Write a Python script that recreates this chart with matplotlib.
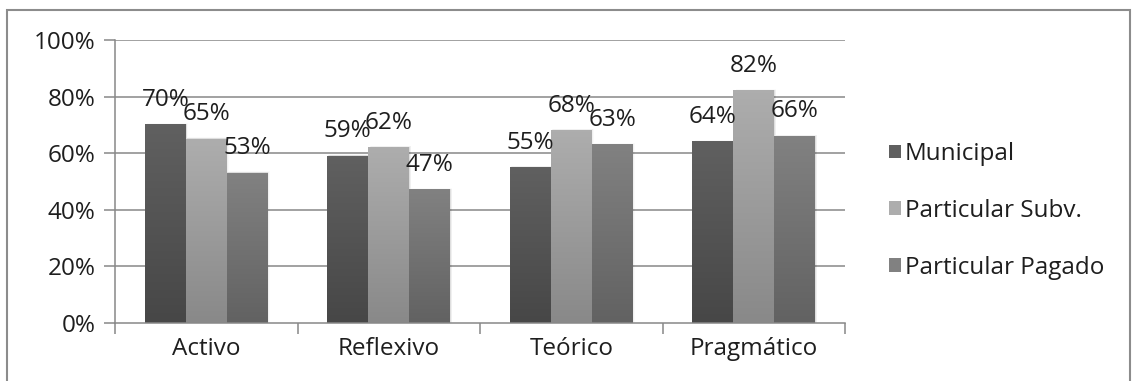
import numpy as np
import matplotlib
matplotlib.use("Agg")
import matplotlib.pyplot as plt
from matplotlib.patches import Rectangle

plt.rcParams['font.family'] = ['Open Sans', 'DejaVu Sans']

categories = ["Activo", "Reflexivo", "Teórico", "Pragmático"]
series_names = ["Municipal", "Particular Subv.", "Particular Pagado"]
municipal = [70, 59, 55, 64]
subvencionado = [65, 62, 68, 82]
pagado = [53, 47, 63, 66]
y_ticks = [0, 20, 40, 60, 80, 100]
y_tick_labels = ["0%", "20%", "40%", "60%", "80%", "100%"]

series_values = [municipal, subvencionado, pagado]
# (bottom colour, top colour) of each series' vertical gradient
gradients = [("#474747", "#606060"), ("#898989", "#adadad"), ("#626262", "#818181")]

FS = 17.5
TXT = "#1e1e1e"
W, H = 1132, 381
fig = plt.figure(figsize=(W / 100, H / 100), dpi=100)

# outer chart frame
fig.patches.append(Rectangle((7 / W, -0.05), (1130 - 7) / W, (H - 10) / H + 0.05,
                             transform=fig.transFigure, fill=False,
                             edgecolor="#8c8c8c", linewidth=1.5))

ax = fig.add_axes([115 / W, (H - 323) / H, (845 - 115) / W, (323 - 40) / H])

grid_color = "#888888"
for t in y_ticks[1:]:
    ax.axhline(t, color=grid_color, linewidth=1.1, zorder=0)

bar_w = 0.224
offsets = [-bar_w, 0, bar_w]
grad = np.linspace(0, 1, 64).reshape(-1, 1)

for s, (vals, (c0, c1)) in enumerate(zip(series_values, gradients)):
    cmap = matplotlib.colors.LinearSegmentedColormap.from_list(f"g{s}", [c0, c1])
    for i, v in enumerate(vals):
        x0 = i + offsets[s] - bar_w / 2
        # soft shadow to the right of the bar
        for k, a in enumerate([0.07, 0.04, 0.02]):
            ax.add_patch(Rectangle((x0 + 0.004 * (k + 1), 0), bar_w, v + 0.2 * (k + 1),
                                   facecolor="black", alpha=a, linewidth=0, zorder=1))
        ax.imshow(grad, extent=(x0, x0 + bar_w, 0, v), origin="lower", cmap=cmap,
                  aspect="auto", zorder=2 + s * 0.01, interpolation="bilinear")
        ax.text(i + offsets[s], v + 4.5, f"{v}%", ha="center", va="bottom",
                fontsize=FS, color=TXT, zorder=5)

ax.set_xlim(-0.5, len(categories) - 0.5)
ax.set_ylim(0, 100)

for side in ["top", "right"]:
    ax.spines[side].set_visible(False)
for side in ["left", "bottom"]:
    ax.spines[side].set_color(grid_color)
    ax.spines[side].set_linewidth(1.1)
    ax.spines[side].set_zorder(6)

ax.set_yticks(y_ticks)
ax.set_yticklabels(y_tick_labels)
ax.set_xticks(range(len(categories)))
ax.set_xticklabels(categories)
ax.set_xticks(np.arange(-0.5, len(categories)), minor=True)
ax.tick_params(axis="y", length=8, width=1.1, color=grid_color, labelsize=FS,
               labelcolor=TXT, pad=6)
ax.tick_params(axis="x", which="major", length=0, labelsize=FS,
               labelcolor=TXT, pad=10)
ax.tick_params(axis="x", which="minor", length=8, width=1.1, color=grid_color)

# legend
handles = [Rectangle((0, 0), 1, 1, facecolor=g[1], edgecolor="none") for g in gradients]
leg = fig.legend(handles, series_names, loc="center left",
                 bbox_to_anchor=(877 / W, (H - 211) / H), frameon=False,
                 fontsize=FS, handlelength=0.5, handleheight=0.5,
                 handletextpad=0.15, labelspacing=1.35, borderpad=0)
for t in leg.get_texts():
    t.set_color(TXT)

fig.savefig("out.png", dpi=100, facecolor="white")
